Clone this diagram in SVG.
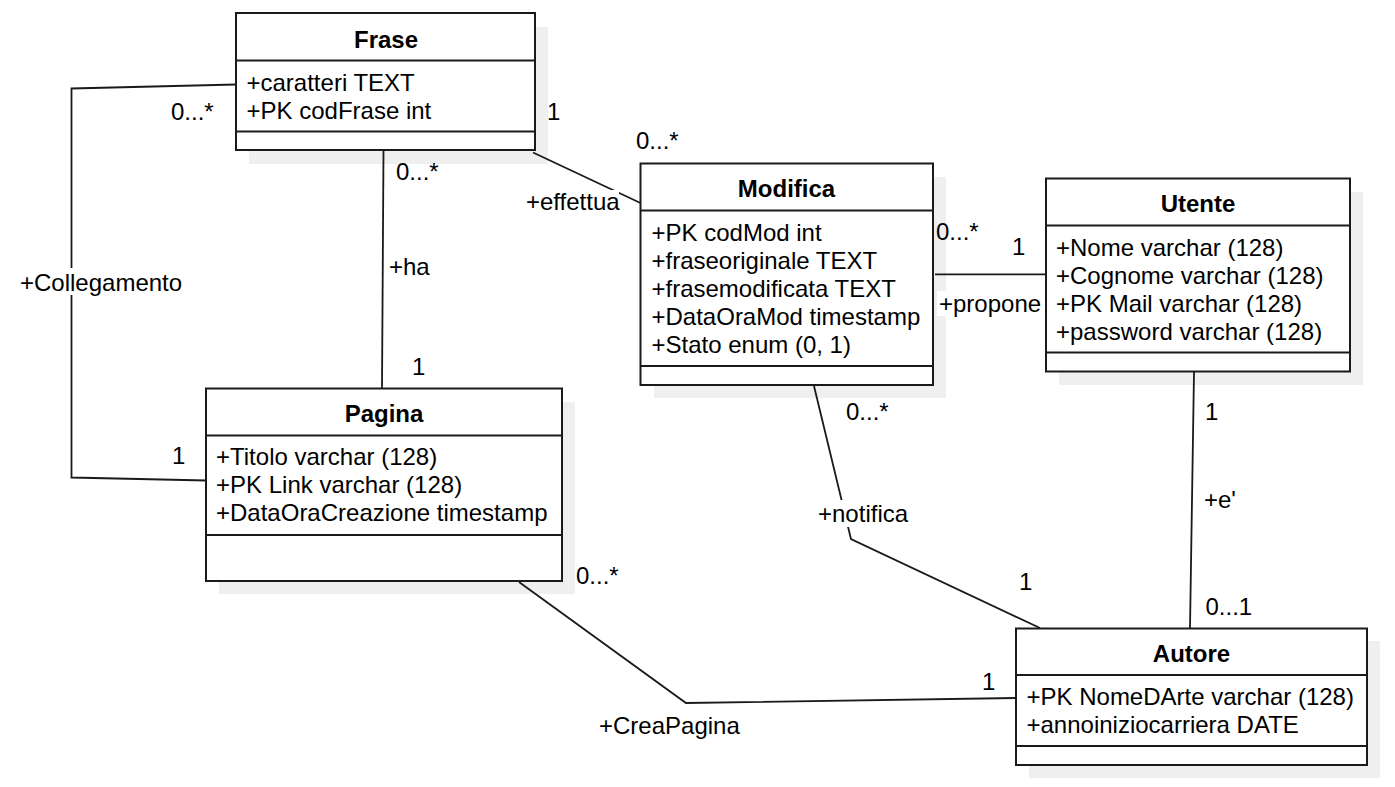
<svg xmlns="http://www.w3.org/2000/svg" width="1395" height="787" viewBox="0 0 1395 787">
<style>
.shadow{fill:#efefef;stroke:none}
.box{fill:#ffffff;stroke:#1a1a1a;stroke-width:2}
.sep{stroke:#1a1a1a;stroke-width:2}
.title{font-family:"Liberation Sans",Arial,sans-serif;font-size:24px;font-weight:bold;fill:#000;text-anchor:middle}
.attr{font-family:"Liberation Sans",Arial,sans-serif;font-size:24px;fill:#000}
.lbl{font-family:"Liberation Sans",Arial,sans-serif;font-size:24px;fill:#000}
.edge{fill:none;stroke:#1a1a1a;stroke-width:1.8}
.bg{fill:#ffffff;stroke:none}
</style>
<rect width="1395" height="787" fill="#ffffff"/>

<g id="node-frase">
<rect class="shadow" x="249" y="27" width="299" height="137"/>
<rect class="box" x="236" y="13" width="299" height="137"/>
<line class="sep" x1="236" y1="60.5" x2="536" y2="60.5"/>
<line class="sep" x1="236" y1="131.5" x2="536" y2="131.5"/>
<text class="title" x="386" y="48">Frase</text>
<text class="attr" x="246.5" y="90.5">+caratteri TEXT</text>
<text class="attr" x="246.5" y="118.5">+PK codFrase int</text>
</g>

<g id="node-modifica">
<rect class="shadow" x="654" y="177" width="292" height="221"/>
<rect class="box" x="640.5" y="163.5" width="292.5" height="221.5"/>
<line class="sep" x1="640.5" y1="210.5" x2="934" y2="210.5"/>
<line class="sep" x1="640.5" y1="366" x2="934" y2="366"/>
<text class="title" x="786.5" y="196.5">Modifica</text>
<text class="attr" x="651.5" y="240.5">+PK codMod int</text>
<text class="attr" x="651.5" y="268.5">+fraseoriginale TEXT</text>
<text class="attr" x="651.5" y="296.5">+frasemodificata TEXT</text>
<text class="attr" x="651.5" y="324.5">+DataOraMod timestamp</text>
<text class="attr" x="651.5" y="352.5">+Stato enum (0, 1)</text>
</g>

<g id="node-utente">
<rect class="shadow" x="1059" y="192" width="304" height="193"/>
<rect class="box" x="1046" y="178.5" width="304" height="193"/>
<line class="sep" x1="1046" y1="225.5" x2="1351" y2="225.5"/>
<line class="sep" x1="1046" y1="352.5" x2="1351" y2="352.5"/>
<text class="title" x="1198" y="211.5">Utente</text>
<text class="attr" x="1056" y="255.5">+Nome varchar (128)</text>
<text class="attr" x="1056" y="283.5">+Cognome varchar (128)</text>
<text class="attr" x="1056" y="311.5">+PK Mail varchar (128)</text>
<text class="attr" x="1056" y="339.5">+password varchar (128)</text>
</g>

<g id="node-pagina">
<rect class="shadow" x="219" y="402" width="356" height="192"/>
<rect class="box" x="206" y="388.5" width="356" height="192.5"/>
<line class="sep" x1="206" y1="435.5" x2="563" y2="435.5"/>
<line class="sep" x1="206" y1="535" x2="563" y2="535"/>
<text class="title" x="384" y="421.5">Pagina</text>
<text class="attr" x="216" y="464.5">+Titolo varchar (128)</text>
<text class="attr" x="216" y="492.5">+PK Link varchar (128)</text>
<text class="attr" x="216" y="520.5">+DataOraCreazione timestamp</text>
</g>

<g id="node-autore">
<rect class="shadow" x="1029" y="641" width="351" height="137"/>
<rect class="box" x="1016" y="628.5" width="351" height="136.5"/>
<line class="sep" x1="1016" y1="675" x2="1368" y2="675"/>
<line class="sep" x1="1016" y1="746" x2="1368" y2="746"/>
<text class="title" x="1191.5" y="661.5">Autore</text>
<text class="attr" x="1026.5" y="705">+PK NomeDArte varchar (128)</text>
<text class="attr" x="1026.5" y="732.5">+annoiniziocarriera DATE</text>
</g>

<g id="connectors">
<g id="edge-collegamento">
<polyline class="edge" points="236,84.5 71.5,88.5 71.5,477.5 206,480.5"/>
<text class="lbl" x="171" y="120">0...*</text>
<rect class="bg" x="19" y="268" width="166" height="27"/>
<text class="lbl" x="20" y="290.5">+Collegamento</text>
<text class="lbl" x="172" y="464">1</text>
</g>
<g id="edge-ha">
<line class="edge" x1="383.5" y1="151" x2="382" y2="388.5"/>
<text class="lbl" x="396" y="179.5">0...*</text>
<text class="lbl" x="389" y="275">+ha</text>
<text class="lbl" x="412" y="374.5">1</text>
</g>
<g id="edge-effettua">
<line class="edge" x1="533" y1="152.5" x2="640.5" y2="203"/>
<text class="lbl" x="547" y="120">1</text>
<text class="lbl" x="636" y="149">0...*</text>
<rect class="bg" x="525" y="190" width="94" height="26"/>
<text class="lbl" x="526" y="210">+effettua</text>
</g>
<g id="edge-propone">
<line class="edge" x1="935" y1="274.3" x2="1046" y2="274.3"/>
<text class="lbl" x="936" y="239.5">0...*</text>
<text class="lbl" x="1012" y="255">1</text>
<rect class="bg" x="937" y="291" width="104" height="25"/>
<text class="lbl" x="939" y="311.5">+propone</text>
</g>
<g id="edge-notifica">
<polyline class="edge" points="814,386 851,539 1040,628"/>
<text class="lbl" x="846" y="420">0...*</text>
<rect class="bg" x="816" y="500" width="94" height="27"/>
<text class="lbl" x="818" y="521.5">+notifica</text>
<text class="lbl" x="1019" y="589.5">1</text>
</g>
<g id="edge-creapagina">
<polyline class="edge" points="519,582 686,703 1016,698"/>
<text class="lbl" x="576" y="584">0...*</text>
<text class="lbl" x="599" y="733.5">+CreaPagina</text>
<text class="lbl" x="982" y="689.5">1</text>
</g>
<g id="edge-e">
<line class="edge" x1="1194" y1="372" x2="1190" y2="628.5"/>
<text class="lbl" x="1205" y="420">1</text>
<text class="lbl" x="1204" y="508">+e'</text>
<text class="lbl" x="1205.5" y="615">0...1</text>
</g>
</g>
</svg>
